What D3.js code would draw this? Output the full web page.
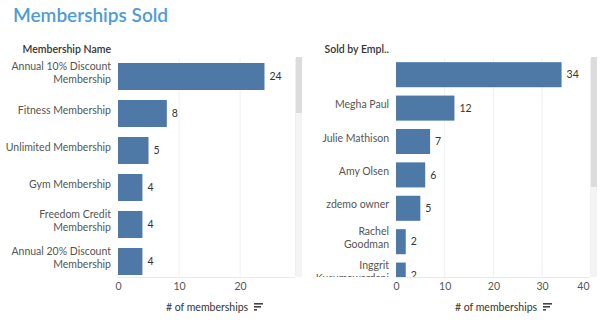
<!DOCTYPE html>
<html>
<head>
<meta charset="utf-8">
<script src="https://cdn.jsdelivr.net/npm/d3@7"></script>
<style>
  html, body { margin: 0; padding: 0; background: #fff; }
  svg { display: block; font-family: Lato, "Open Sans", sans-serif; }
</style>
</head>
<body>
<svg id="chart" width="601" height="323"></svg>
<script>
// Memberships by type
const membershipNames = [
  "Annual 10% Discount Membership",
  "Fitness Membership",
  "Unlimited Membership",
  "Gym Membership",
  "Freedom Credit Membership",
  "Annual 20% Discount Membership"
];
const membershipCounts = [24, 8, 5, 4, 4, 4];
const membershipTicks = [0, 10, 20];

// Memberships by selling employee (first row has no employee recorded)
const employeeNames = [
  "",
  "Megha Paul",
  "Julie Mathison",
  "Amy Olsen",
  "zdemo owner",
  "Rachel Goodman",
  "Inggrit Kusumawardani"
];
const employeeCounts = [34, 12, 7, 6, 5, 2, 2];
const employeeTicks = [0, 10, 20, 30, 40];

const BAR = "#4e79a7";
const FS = 10.5;
const svg = d3.select("#chart");

svg.append("text")
  .attr("x", 13).attr("y", 22)
  .attr("font-size", 19).attr("font-weight", 600)
  .attr("fill", "#4f9bd8")
  .text("Memberships Sold");

// Break a label into lines that fit maxW, centred on its y
function wrap(textSel, maxW) {
  textSel.each(function () {
    const t = d3.select(this);
    const words = t.text().split(/\s+/).filter(Boolean);
    t.text(null);
    const lines = [];
    let line = [];
    const probe = t.append("tspan");
    for (const w of words) {
      line.push(w);
      probe.text(line.join(" "));
      if (probe.node().getComputedTextLength() > maxW && line.length > 1) {
        line.pop();
        lines.push(line.join(" "));
        line = [w];
      }
    }
    if (line.length) lines.push(line.join(" "));
    probe.remove();
    const lh = 13;
    const off = -(lines.length - 1) * lh / 2;
    lines.forEach((l, i) => {
      t.append("tspan").attr("x", t.attr("x")).attr("dy", i === 0 ? off : lh).text(l);
    });
  });
}

function panel(opts) {
  const g = svg.append("g");
  const clipId = "clip" + opts.id;
  svg.append("defs").append("clipPath").attr("id", clipId)
    .append("rect").attr("x", 0).attr("y", opts.top).attr("width", 601).attr("height", opts.bottom - opts.top);

  const x = d3.scaleLinear().domain(opts.domain).range([opts.x0, opts.x1]);
  const y = d3.scaleBand().domain(d3.range(opts.names.length))
    .range([opts.top, opts.top + opts.step * opts.names.length])
    .paddingInner(opts.pad).paddingOuter(opts.pad / 2);

  // header
  g.append("text")
    .attr("x", opts.labelX).attr("y", opts.top - 5)
    .attr("text-anchor", "end").attr("font-size", FS).attr("font-weight", 600)
    .attr("fill", "#333").text(opts.header);

  // gridlines
  g.append("g").selectAll("line").data(opts.ticks.filter(d => d > 0 && x(d) < opts.paneR))
    .join("line")
    .attr("x1", d => x(d)).attr("x2", d => x(d))
    .attr("y1", opts.top).attr("y2", opts.bottom)
    .attr("stroke", "#f0f0f0").attr("stroke-width", 1);

  // pane edges
  g.append("line").attr("x1", opts.x0 - 1).attr("x2", opts.paneR)
    .attr("y1", opts.bottom + 0.5).attr("y2", opts.bottom + 0.5)
    .attr("stroke", "#eaeaea");
  g.append("line").attr("x1", opts.paneR + 0.5).attr("x2", opts.paneR + 0.5)
    .attr("y1", opts.top).attr("y2", opts.bottom)
    .attr("stroke", "#f0f0f0");

  const body = g.append("g").attr("clip-path", `url(#${clipId})`);

  body.selectAll("rect.bar").data(opts.counts).join("rect")
    .attr("class", "bar")
    .attr("x", x(0)).attr("y", (d, i) => y(i))
    .attr("width", d => x(d) - x(0)).attr("height", y.bandwidth())
    .attr("fill", BAR);

  body.selectAll("text.val").data(opts.counts).join("text")
    .attr("class", "val")
    .attr("x", d => x(d) + 5).attr("y", (d, i) => y(i) + y.bandwidth() / 2)
    .attr("dy", "0.35em").attr("font-size", FS).attr("fill", "#333")
    .text(d => d);

  body.selectAll("text.cat").data(opts.names).join("text")
    .attr("class", "cat")
    .attr("x", opts.labelX).attr("y", (d, i) => y(i) + y.bandwidth() / 2)
    .attr("dy", "0.35em").attr("text-anchor", "end")
    .attr("font-size", FS).attr("fill", "#555")
    .text(d => d)
    .call(wrap, opts.wrapW);

  // scrollbar
  g.append("rect").attr("x", opts.paneR + 1).attr("y", opts.top - 1)
    .attr("width", 6).attr("height", opts.bottom - opts.top + 1).attr("fill", "#f4f4f4");
  g.append("rect").attr("x", opts.paneR + 1).attr("y", opts.top - 1)
    .attr("width", 6).attr("height", opts.thumb).attr("fill", "#dcdcdc");

  // axis
  const axis = d3.axisBottom(x).tickValues(opts.ticks).tickSize(0).tickPadding(0);
  const ag = g.append("g").attr("transform", `translate(0,${opts.bottom + 6})`).call(axis);
  ag.select(".domain").remove();
  ag.selectAll("text").attr("font-size", FS).attr("fill", "#555")
    .attr("font-family", "Lato, sans-serif")
    .attr("text-anchor", d => x(d) > opts.paneR - 5 ? "end" : "middle")
    .attr("x", d => x(d) > opts.paneR - 5 ? opts.paneR - 1 - x(d) : 0);

  g.append("text")
    .attr("x", opts.titleX).attr("y", opts.bottom + 34)
    .attr("text-anchor", "middle").attr("font-size", FS).attr("fill", "#333")
    .text("# of memberships");
  // sort indicator
  const sx = opts.titleX + 47, sy = opts.bottom + 26;
  [9, 7, 3].forEach((w, i) => {
    g.append("rect").attr("x", sx).attr("y", sy + i * 3).attr("width", w).attr("height", 1.6).attr("fill", "#444");
  });
}

panel({
  id: "A", names: membershipNames, counts: membershipCounts, ticks: membershipTicks,
  domain: [0, 29], x0: 118, x1: 295, paneR: 295, top: 58, bottom: 277,
  step: 37, pad: 0.27, labelX: 111, wrapW: 110, header: "Membership Name",
  titleX: 207, thumb: 56
});

panel({
  id: "B", names: employeeNames, counts: employeeCounts, ticks: employeeTicks,
  domain: [0, 40], x0: 396, x1: 590.8, paneR: 590, top: 58, bottom: 277,
  step: 33.4, pad: 0.25, labelX: 389, wrapW: 74, header: "Sold by Empl..",
  titleX: 496, thumb: 130
});
</script>
</body>
</html>
